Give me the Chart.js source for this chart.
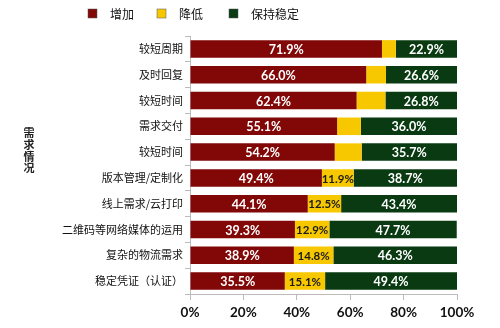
<!DOCTYPE html>
<html>
<head>
<meta charset="utf-8">
<script src="https://cdn.jsdelivr.net/npm/chart.js@4.4.0/dist/chart.umd.min.js"></script>
<style>
  html, body { margin: 0; padding: 0; background: #fff; }
  #wrap { width: 500px; height: 328px; }
</style>
</head>
<body>
<div id="wrap"><canvas id="myChart"></canvas></div>
<script>
// 需求情况
var categories = ['较短周期', '及时回复', '较短时间', '需求交付', '较短时间',
    '版本管理/定制化', '线上需求/云打印', '二维码等网络媒体的运用', '复杂的物流需求', '稳定凭证（认证）'];
var increase = [71.9, 66.0, 62.4, 55.1, 54.2, 49.4, 44.1, 39.3, 38.9, 35.5];
var decrease = [5.2, 7.4, 10.8, 8.9, 10.1, 11.9, 12.5, 12.9, 14.8, 15.1];
var stable = [22.9, 26.6, 26.8, 36.0, 35.7, 38.7, 43.4, 47.7, 46.3, 49.4];
var xTicks = [0, 20, 40, 60, 80, 100];

var cjkFont = "'Noto Sans CJK SC', sans-serif";
var numFont = "Lato, 'Open Sans', sans-serif";

// 数值标签
var barLabels = {
    id: 'barLabels',
    afterDatasetsDraw: function(chart) {
        var ctx = chart.ctx;
        ctx.save();
        ctx.textAlign = 'center';
        ctx.textBaseline = 'middle';
        chart.data.datasets.forEach(function(ds, i) {
            var meta = chart.getDatasetMeta(i);
            meta.data.forEach(function(bar, j) {
                var v = ds.data[j];
                if (i === 1 && v < 11) return;
                var cx = (bar.x + bar.base) / 2;
                ctx.font = (i === 1 ? 'bold 11.5px ' : 'bold 12.5px ') + numFont;
                ctx.fillStyle = i === 1 ? '#1a1a1a' : '#ffffff';
                ctx.fillText(v.toFixed(1) + '%', cx, bar.y + 1);
            });
        });
        ctx.restore();
    }
};

// 图例（手动排布）
var legendX = [88, 157, 229];
var topLegend = {
    id: 'topLegend',
    afterDraw: function(chart) {
        var ctx = chart.ctx;
        ctx.save();
        ctx.font = '12px ' + cjkFont;
        ctx.textBaseline = 'middle';
        ctx.textAlign = 'left';
        chart.data.datasets.forEach(function(ds, i) {
            var x = legendX[i];
            ctx.fillStyle = ds.backgroundColor;
            ctx.fillRect(x, 9, 9, 9);
            ctx.strokeStyle = '#555';
            ctx.lineWidth = 0.5;
            ctx.strokeRect(x, 9, 9, 9);
            ctx.fillStyle = '#111';
            ctx.fillText(ds.label, x + 22, 14);
        });
        ctx.restore();
    }
};

// 竖排的轴标题
var sideTitle = {
    id: 'sideTitle',
    afterDraw: function(chart) {
        var ctx = chart.ctx;
        var chars = '需求情况'.split('');
        ctx.save();
        ctx.font = 'bold 11px ' + cjkFont;
        ctx.fillStyle = '#222';
        ctx.textAlign = 'center';
        ctx.textBaseline = 'middle';
        chars.forEach(function(c, k) {
            ctx.fillText(c, 29, 133 + k * 11.7);
        });
        ctx.restore();
    }
};

var ctx = document.getElementById('myChart').getContext('2d');
var myChart = new Chart(ctx, {
    type: 'bar',
    data: {
        labels: categories,
        datasets: [
            { label: '增加', data: increase, backgroundColor: '#820808' },
            { label: '降低', data: decrease, backgroundColor: '#f7c800' },
            { label: '保持稳定', data: stable, backgroundColor: '#093a12' }
        ]
    },
    options: {
        indexAxis: 'y',
        responsive: true,
        maintainAspectRatio: false,
        animation: false,
        datasets: { bar: { categoryPercentage: 1, barPercentage: 0.68 } },
        layout: { padding: { left: 0, right: 43, top: 36, bottom: 0 } },
        scales: {
            x: {
                stacked: true,
                min: 0,
                max: 100,
                afterBuildTicks: function(scale) {
                    scale.ticks = xTicks.map(function(v) { return { value: v }; });
                },
                afterFit: function(scale) { scale.height = 34; },
                grid: { drawOnChartArea: false, tickLength: 6, color: '#bbb' },
                border: { color: '#bbb' },
                ticks: {
                    padding: 5,
                    color: '#111',
                    font: { family: numFont, size: 13.5, weight: 'bold' },
                    callback: function(v) { return v + '%'; }
                }
            },
            y: {
                stacked: true,
                afterFit: function(scale) { scale.width = 190; },
                grid: { drawOnChartArea: false, tickLength: 5, color: '#bbb' },
                border: { color: '#bbb' },
                ticks: {
                    padding: 2,
                    color: '#111',
                    font: { family: cjkFont, size: 11 }
                }
            }
        },
        plugins: {
            legend: { display: false },
            tooltip: { enabled: false }
        }
    },
    plugins: [barLabels, topLegend, sideTitle]
});
</script>
</body>
</html>
